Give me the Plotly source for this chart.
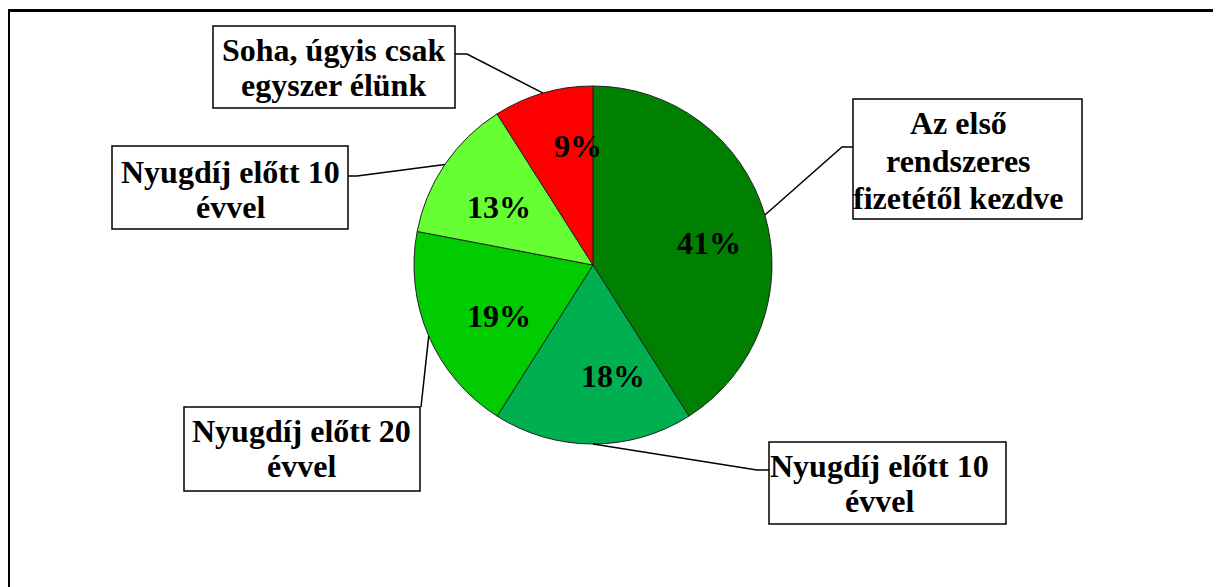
import math
import plotly.graph_objects as go

# ---- data ----
categories = [
    "Az első rendszeres fizetétől kezdve",
    "Nyugdíj előtt 10 évvel",
    "Nyugdíj előtt 20 évvel",
    "Nyugdíj előtt 10 évvel ",
    "Soha, úgyis csak egyszer élünk",
]
label_lines = [
    ["Az első", "rendszeres", "fizetétől kezdve"],
    ["Nyugdíj előtt 10", "évvel"],
    ["Nyugdíj előtt 20", "évvel"],
    ["Nyugdíj előtt 10", "évvel"],
    ["Soha, úgyis csak", "egyszer élünk"],
]
values = [41, 18, 19, 13, 9]
colors = ["#008000", "#00B050", "#00CC00", "#66FF33", "#FF0000"]

# ---- layout (pixels, page coordinates) ----
W, H = 1221, 587
OFF = 8  # default body margin of the page
CX, CY, R = 593, 265, 179
FONT = "Liberation Serif, Times New Roman, serif"
FS = 32

def px(x):
    return (x - OFF) / W

def py(y):
    return 1 - (y - OFF) / H

# percent label centres
pct_pos = [(709, 242.5), (613, 375.5), (498.5, 316.3), (498.5, 207), (578, 145.5)]
# label boxes (x0, y0, x1, y1), text centre x, line centre ys
boxes = [(853, 99, 1082, 219), (769, 442, 1006, 524), (184, 407, 420, 491),
         (112, 146, 348, 229), (213, 26, 455, 108)]
text_cx = [959, 879, 301, 230, 333.5]
text_cy = [[122.8, 161.2, 197.8], [466.2, 501.2], [431.2, 466.2],
           [171.5, 206.5], [50, 84.5]]
# leader line: box attach point, elbow
leader = [((853, 147), (842, 147)), ((769, 470), (757, 470)),
          ((421, 407), (421, 407)), ((348, 176), (357, 176)),
          ((455, 54), (467, 54))]

fig = go.Figure(go.Pie(
    labels=categories,
    values=values,
    sort=False,
    direction="clockwise",
    rotation=0,
    marker=dict(colors=colors, line=dict(color="#222222", width=1)),
    textinfo="none",
    hoverinfo="label+percent",
    showlegend=False,
    domain=dict(x=[px(CX - R), px(CX + R)], y=[py(CY + R), py(CY - R)]),
))

shapes = []
annotations = []

# frame (left and top edges visible)
shapes.append(dict(type="line", xref="paper", yref="paper",
                   x0=px(8.5), y0=py(9), x1=px(8.5), y1=py(620),
                   line=dict(color="black", width=3)))
shapes.append(dict(type="line", xref="paper", yref="paper",
                   x0=px(7), y0=py(10.5), x1=px(1240), y1=py(10.5),
                   line=dict(color="black", width=3)))

total = sum(values)
cum = 0
for i, v in enumerate(values):
    mid = (cum + v / 2) / total * 2 * math.pi
    cum += v
    ax = CX + R * math.sin(mid)
    ay = CY - R * math.cos(mid)
    (bx, by), (ex, ey) = leader[i]
    path = f"M {px(bx)},{py(by)} L {px(ex)},{py(ey)} L {px(ax)},{py(ay)}"
    shapes.append(dict(type="path", xref="paper", yref="paper", path=path,
                       line=dict(color="black", width=1.5)))
    x0, y0, x1, y1 = boxes[i]
    shapes.append(dict(type="rect", xref="paper", yref="paper",
                       x0=px(x0), y0=py(y1), x1=px(x1), y1=py(y0),
                       line=dict(color="black", width=1.5),
                       fillcolor="white"))
    for line, cy in zip(label_lines[i], text_cy[i]):
        annotations.append(dict(x=px(text_cx[i]), y=py(cy), xref="paper", yref="paper",
                                text=f"<b>{line}</b>", showarrow=False,
                                xanchor="center", yanchor="middle",
                                font=dict(family=FONT, size=FS, color="black")))
    pct = round(v / total * 100)
    annotations.append(dict(x=px(pct_pos[i][0]), y=py(pct_pos[i][1]),
                            xref="paper", yref="paper",
                            text=f"<b>{pct}%</b>", showarrow=False,
                            xanchor="center", yanchor="middle",
                            font=dict(family=FONT, size=FS, color="black")))

fig.update_layout(
    width=W, height=H,
    margin=dict(l=0, r=0, t=0, b=0),
    paper_bgcolor="white",
    plot_bgcolor="white",
    shapes=shapes,
    annotations=annotations,
)

fig.write_html("out.html")
